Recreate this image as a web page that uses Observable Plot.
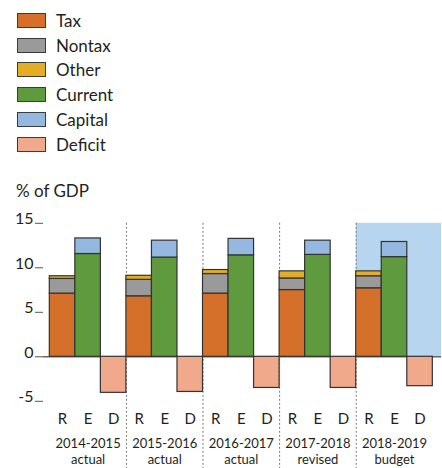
<!DOCTYPE html>
<html><head><meta charset="utf-8">
<script src="https://cdn.jsdelivr.net/npm/d3@7"></script>
<script src="https://cdn.jsdelivr.net/npm/@observablehq/plot@0.6"></script>
<style>
body{margin:0;background:#fff;font-family:Lato,"Open Sans",sans-serif;color:#231f20;}
#legend{height:152px;padding-top:8px;}
.row{height:24.8px;display:flex;align-items:center;}
.sw{width:27px;height:13px;border:1px solid #3b3b3b;margin-left:17px;margin-right:10px;box-sizing:content-box;}
.lab{font-size:17px;}
#unit{height:40px;box-sizing:border-box;padding-top:20px;line-height:21px;font-size:17px;padding-left:16px;}
#chart svg{display:block;}
</style></head><body>
<div id="legend"></div><div id="unit">% of GDP</div><div id="chart"></div>
<script>
const years = ["2014-2015","2015-2016","2016-2017","2017-2018","2018-2019"];
const status = ["actual","actual","actual","revised","budget"];
const tax = [7.1, 6.8, 7.1, 7.5, 7.7];
const nontax = [1.65, 1.85, 2.2, 1.3, 1.35];
const other = [0.3, 0.45, 0.45, 0.8, 0.55];
const current = [11.55, 11.15, 11.4, 11.45, 11.2];
const capital = [1.75, 1.9, 1.85, 1.6, 1.7];
const deficit = [-4.05, -3.95, -3.5, -3.5, -3.3];
const barKeys = ["R","E","D"];
const cats = ["Tax","Nontax","Other","Current","Capital","Deficit"];
const colors = ["#D4702A","#9A9A9A","#E3AE25","#5F9A3F","#95B8E1","#F1A98B"];
const yTicks = [-5, 0, 5, 10, 15];
const highlightYear = "2018-2019";

// legend
const leg = document.getElementById("legend");
cats.forEach((c, i) => {
  const r = document.createElement("div"); r.className = "row";
  const s = document.createElement("div"); s.className = "sw"; s.style.background = colors[i];
  const t = document.createElement("span"); t.className = "lab"; t.textContent = c;
  r.appendChild(s); r.appendChild(t); leg.appendChild(r);
});

// build stacked rects
const rows = [];
years.forEach((yr, gi) => {
  const stacks = [
    [["Tax", tax[gi]], ["Nontax", nontax[gi]], ["Other", other[gi]]],
    [["Current", current[gi]], ["Capital", capital[gi]]],
    [["Deficit", deficit[gi]]]
  ];
  stacks.forEach((st, bi) => {
    let base = 0;
    st.forEach(([cat, v]) => {
      rows.push({cat, x1: gi * 3 + bi, x2: gi * 3 + bi + 1, y1: base, y2: base + v});
      base += v;
    });
  });
});
const slotCenters = d3.range(years.length * 3).map(i => i + 0.5);
const groupCenters = years.map((_, i) => i * 3 + 1.5);
const dividers = years.slice(1).map((_, i) => (i + 1) * 3);
const hi = years.indexOf(highlightYear);
const xMax = 15.34;
const font = "Lato, 'Open Sans', sans-serif";

const chart = Plot.plot({
  width: 442, height: 268,
  marginTop: 22.8, marginBottom: 67.2, marginLeft: 43, marginRight: 1,
  style: {fontFamily: font, color: "#231f20", background: "transparent"},
  x: {type: "linear", domain: [-0.247, xMax], axis: null},
  y: {domain: [-5, 15], axis: null},
  color: {domain: cats, range: colors},
  marks: [
    Plot.rect([highlightYear], {x1: hi * 3, x2: xMax, y1: 0, y2: 15, fill: "#B7D5EE"}),
    Plot.ruleX(dividers, {x: d => d, y1: 15, y2: -13, stroke: "#777", strokeDasharray: "2,2", strokeWidth: 1}),
    Plot.ruleY([0], {stroke: "#666", strokeWidth: 1.5}),
    Plot.rect(rows, {x1: "x1", x2: "x2", y1: "y1", y2: "y2", fill: "cat", stroke: "#333", strokeWidth: 1.2}),
    Plot.axisY({ticks: yTicks, tickSize: 8, tickFormat: () => "", stroke: "#555", label: null}),
    Plot.text(yTicks, {y: d => d, frameAnchor: "left", dx: -10, textAnchor: "end", lineAnchor: "bottom", dy: 1, text: d => String(d), fontSize: 16, fill: "#231f20"}),
    Plot.text(slotCenters, {x: d => d, frameAnchor: "bottom", dy: 12, lineAnchor: "top", text: d => barKeys[Math.floor(d) % 3], fontSize: 15, fill: "#231f20"}),
    Plot.text(groupCenters, {x: d => d, frameAnchor: "bottom", dy: 36, lineAnchor: "top", lineHeight: 1.2, text: d => { const i = Math.floor(d / 3); return years[i] + "\n" + status[i]; }, fontSize: 13, fill: "#231f20"})
  ]
});
document.getElementById("chart").appendChild(chart);
</script>
</body></html>
